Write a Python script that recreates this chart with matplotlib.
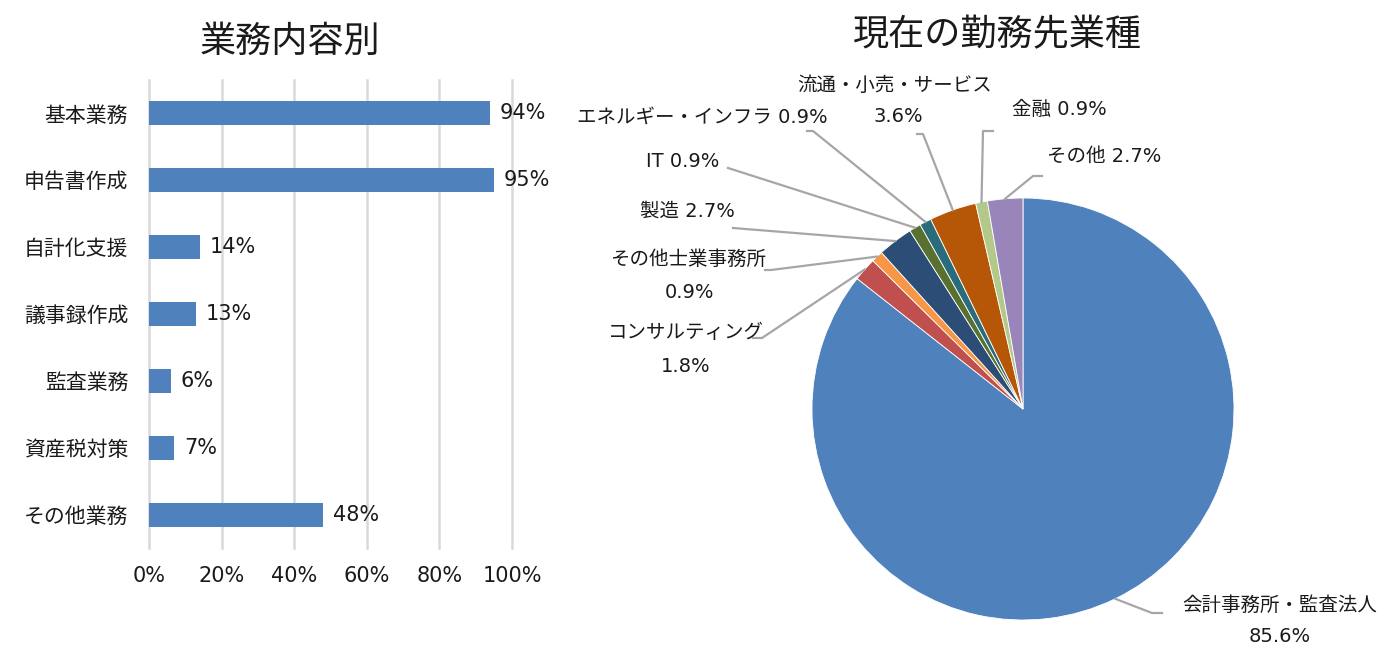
import matplotlib
matplotlib.use("Agg")
import matplotlib.pyplot as plt
from matplotlib.lines import Line2D
import numpy as np

plt.rcParams['font.family'] = ['DejaVu Sans', 'Noto Sans CJK JP']

# ---- data ----
bar_categories = ["基本業務", "申告書作成", "自計化支援", "議事録作成", "監査業務", "資産税対策", "その他業務"]
bar_values = [94, 95, 14, 13, 6, 7, 48]
bar_ticks = [0, 20, 40, 60, 80, 100]
bar_tick_labels = ["0%", "20%", "40%", "60%", "80%", "100%"]

pie_labels = ["会計事務所・監査法人", "コンサルティング", "その他士業事務所", "製造", "IT",
              "エネルギー・インフラ", "流通・小売・サービス", "金融", "その他"]
pie_values = [85.6, 1.8, 0.9, 2.7, 0.9, 0.9, 3.6, 0.9, 2.7]
pie_colors = ["#4F81BD", "#C0504D", "#F79646", "#2C4D75", "#5A7030",
              "#2A6B7C", "#B65708", "#B3C98A", "#9A85BA"]

W, H = 1396, 666
fig = plt.figure(figsize=(W / 100, H / 100), dpi=100)
TXT = "#1a1a1a"


def fx(px):
    return px / W


def fy(py):
    return 1 - py / H


# ---- bar chart ----
axb = fig.add_axes([fx(149), fy(548), fx(512) - fx(149), fy(80) - fy(548)])
ypos = list(range(len(bar_categories)))
bars = axb.barh(ypos, bar_values, height=0.36, color="#4F81BD", zorder=3)
axb.set_ylim(len(bar_categories) - 0.5, -0.5)
axb.set_xlim(0, 100)
axb.set_yticks(ypos)
axb.set_yticklabels(bar_categories, fontsize=15, color=TXT)
axb.set_xticks(bar_ticks)
axb.set_xticklabels(bar_tick_labels, fontsize=15, color=TXT)
axb.tick_params(axis='y', length=0, pad=15)
axb.tick_params(axis='x', length=0, pad=13)
for s in axb.spines.values():
    s.set_visible(False)
axb.grid(axis='x', color="#D9D9D9", linewidth=1.8, zorder=0)
for gl in axb.get_xgridlines():
    gl.set_clip_on(False)
axb.bar_label(bars, labels=[f"{v}%" for v in bar_values], padding=7,
              fontsize=15, color=TXT)

fig.text(fx(290), fy(42), "業務内容別", fontsize=26, ha='center', va='center', color=TXT)
fig.text(fx(997), fy(35), "現在の勤務先業種", fontsize=26, ha='center', va='center', color=TXT)

# ---- pie chart ----
cx, cy, r = 1023, 409, 211
axp = fig.add_axes([fx(cx - r), fy(cy + r), 2 * r / W, 2 * r / H])
wedges, _ = axp.pie(pie_values, colors=pie_colors, startangle=90, counterclock=False,
                    radius=1.0, wedgeprops=dict(edgecolor="white", linewidth=0.6))
axp.set_xlim(-1, 1)
axp.set_ylim(-1, 1)
axp.set_aspect('auto')
axp.axis('off')

# label layout: text centers (px from top-left) and leader-line elbow/end points
layout = {
    "会計事務所・監査法人": dict(text=[(1280, 605, "会計事務所・監査法人"), (1280, 637, "85.6%")],
                           path=[(1152, 613), (1162, 613)]),
    "コンサルティング": dict(text=[(686, 332, "コンサルティング"), (686, 366, "1.8%")],
                        path=[(762, 338), (753, 338)]),
    "その他士業事務所": dict(text=[(688, 259, "その他士業事務所"), (690, 293, "0.9%")],
                        path=[(771, 270), (765, 270)]),
    "製造": dict(text=[(687, 211, "製造 2.7%")], path=[(733, 228)]),
    "IT": dict(text=[(683, 161, "IT 0.9%")], path=[(728, 168)]),
    "エネルギー・インフラ": dict(text=[(702, 117, "エネルギー・インフラ 0.9%")],
                            path=[(813, 131), (807, 131)]),
    "流通・小売・サービス": dict(text=[(895, 85, "流通・小売・サービス"), (898, 117, "3.6%")],
                            path=[(923, 134), (917, 134)]),
    "金融": dict(text=[(1059, 109, "金融 0.9%")], path=[(983, 131), (993, 131)]),
    "その他": dict(text=[(1104, 156, "その他 2.7%")], path=[(1033, 176), (1042, 176)]),
}

fig.canvas.draw()
inv = fig.transFigure.inverted()
for w, lab in zip(wedges, pie_labels):
    ang = np.deg2rad((w.theta1 + w.theta2) / 2)
    ex, ey = np.cos(ang), np.sin(ang)
    p0 = inv.transform(axp.transData.transform((ex, ey)))
    cfg = layout[lab]
    xs = [p0[0]] + [fx(p[0]) for p in cfg["path"]]
    ys = [p0[1]] + [fy(p[1]) for p in cfg["path"]]
    fig.add_artist(Line2D(xs, ys, color="#A6A6A6", linewidth=1.6, transform=fig.transFigure))
    for tx, ty, s in cfg["text"]:
        fig.text(fx(tx), fy(ty), s, fontsize=14, ha='center', va='center', color=TXT)

fig.savefig("out.png", dpi=100, facecolor="white")
